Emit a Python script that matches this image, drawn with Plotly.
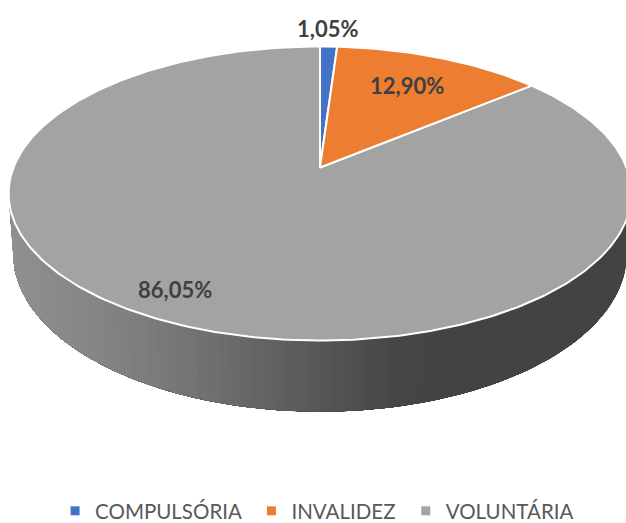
import numpy as np
import plotly.graph_objects as go

categories = ["COMPULSÓRIA", "INVALIDEZ", "VOLUNTÁRIA"]
values = [1.05, 12.90, 86.05]
labels = ["1,05%", "12,90%", "86,05%"]
colors = ["#4472C4", "#ED7D31", "#A3A3A3"]

# perspective view of the disc
CX, CY = 320, 167.5
A, B, K = 306.5, 142.4, 0.177
DEPTH, SHRINK = 58.5, 0.985
SHADE_X = [0, 15, 100, 200, 320, 400, 450, 640]
SHADE_V = [146, 143, 133, 115, 88, 70, 67, 67]
LABEL_POS = [(327, 28), (407, 85), (175, 289)]
FIG_H = 540  # slightly taller than the window, so the legend's padding can hang below it


def top(theta):
    u, v = np.sin(theta), np.cos(theta)
    w = 1 + K * v
    return CX + A * u / w, CY - B * v / w


def bottom(theta):
    u, v = np.sin(theta), np.cos(theta)
    w = 1 + K * v
    return CX + SHRINK * A * u / w, CY - B * v / w + DEPTH / w


fig = go.Figure()

# side wall (front half of the disc); overlapping shaded bands, right to left
edges = np.linspace(100, 260, 91)
for e in edges[:-1]:
    ts = np.radians(np.linspace(e, 260, max(2, int((260 - e) / 1.5))))
    xa, ya = top(ts)
    xb, yb = bottom(ts[::-1])
    xs = np.r_[xa, xb, xa[0]]
    ys = np.r_[ya, yb, ya[0]]
    g = int(round(np.interp(xa[0], SHADE_X, SHADE_V)))
    c = f"rgb({g},{g},{g})"
    fig.add_trace(go.Scatter(x=xs, y=ys, mode="lines", fill="toself", fillcolor=c,
                             line=dict(color=c, width=0), showlegend=False,
                             hoverinfo="skip"))

# top surface, drawn from the values
order = [2, 0, 1]
cum = np.cumsum([0] + values)
for i in order:
    t = np.radians(np.linspace(cum[i], cum[i + 1], max(4, int(values[i] * 4))) * 3.6)
    xs, ys = top(t)
    xs = np.r_[CX, xs, CX]
    ys = np.r_[CY, ys, CY]
    fig.add_trace(go.Scatter(x=xs, y=ys, mode="lines", fill="toself", fillcolor=colors[i],
                             line=dict(color="white", width=2), showlegend=False,
                             hovertemplate=f"{categories[i]}: {labels[i]}<extra></extra>"))

# legend entries (a non-breaking space widens the gaps between entries)
pads = ["\u00a0", "\u00a0", ""]
for name, c, p in zip(categories, colors, pads):
    fig.add_trace(go.Scatter(x=[None], y=[None], mode="markers", name=name + p,
                             marker=dict(symbol="square", size=9, color=c)))

for text, (x, y) in zip(labels, LABEL_POS):
    fig.add_annotation(x=x, y=y, text=f"<b>{text}</b>", showarrow=False,
                       font=dict(family="Lato", size=22, color="#404040"))

fig.update_layout(
    width=626, height=FIG_H, autosize=False,
    margin=dict(l=0, r=0, t=0, b=0),
    paper_bgcolor="white", plot_bgcolor="white",
    xaxis=dict(range=[0, 626], visible=False, fixedrange=True),
    yaxis=dict(range=[FIG_H, 0], visible=False, fixedrange=True),
    legend=dict(orientation="h", x=0.088, xanchor="left",
                y=9 / FIG_H, yanchor="bottom",
                font=dict(family="Lato", size=20.5, color="#595959"),
                itemwidth=30, bgcolor="rgba(0,0,0,0)"),
)
fig.write_html("out.html", config={"displayModeBar": False},
               post_script="document.body.style.margin='0';document.body.style.overflow='hidden';"
                           "document.documentElement.style.overflow='hidden';")
